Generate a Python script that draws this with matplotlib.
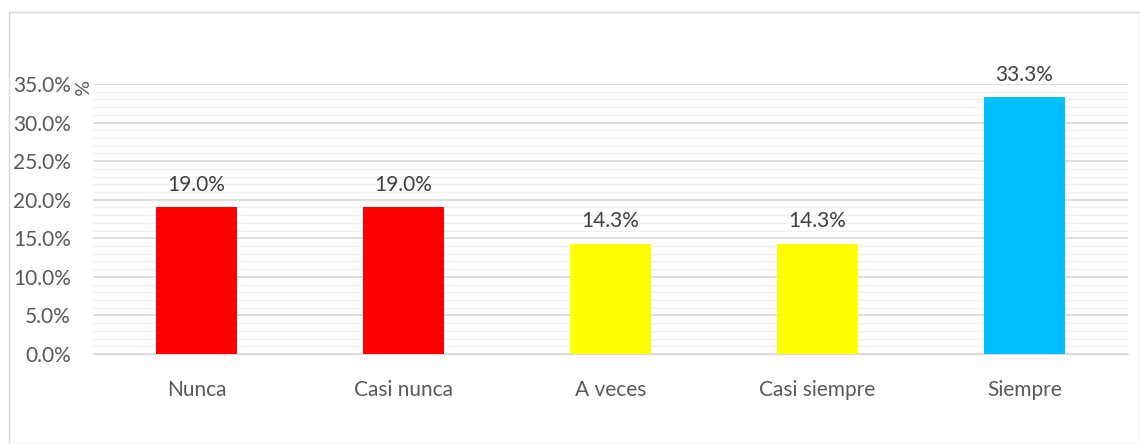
import numpy as np
import matplotlib.pyplot as plt
from matplotlib.patches import Rectangle

# data
categorias = ['Nunca', 'Casi nunca', 'A veces', 'Casi siempre', 'Siempre']
valores = [19.0, 19.0, 14.3, 14.3, 33.3]
colores = ['#FF0000', '#FF0000', '#FFFF00', '#FFFF00', '#00BFFF']

plt.rcParams['font.family'] = ['Lato', 'DejaVu Sans']
txt = '#595959'

fig = plt.figure(figsize=(11.4, 4.44), dpi=100)
ax = fig.add_axes([93/1140, 1 - 354/444, 1035/1140, 270/444])

# light border around chart area
fig.patches.append(Rectangle((9/1140, 0), 1 - 9/1140, 1 - 12/444,
                             transform=fig.transFigure, fill=False,
                             edgecolor='#D9D9D9', linewidth=1))

x = np.arange(len(categorias))
bars = ax.bar(x, valores, width=0.39, color=colores, zorder=3)
for xi, v in zip(x, valores):
    ax.text(xi, v + 1.6, f'{v:.1f}%', ha='center', va='bottom',
            fontsize=15, color='#404040')

ax.set_xlim(-0.5, 4.5)
ax.set_ylim(0, 35)
ax.set_yticks(np.arange(0, 36, 5))
ax.set_yticklabels([f'{t:.1f}%' for t in np.arange(0, 36, 5)])
ax.set_yticks(np.arange(0, 36, 1), minor=True)
ax.grid(axis='y', which='major', color='#D9D9D9', linewidth=1.2, zorder=0)
ax.grid(axis='y', which='minor', color='#F0F0F0', linewidth=1.0, zorder=0)
ax.set_xticks(x)
ax.set_xticklabels(categorias)
ax.tick_params(axis='both', which='both', length=0, labelsize=15, colors=txt)
ax.tick_params(axis='x', pad=19)
ax.tick_params(axis='y', pad=16)
for s in ['top', 'right', 'left']:
    ax.spines[s].set_visible(False)
ax.spines['bottom'].set_color('#D9D9D9')

fig.text(79/1140, 1 - 88/444, '%', rotation=-90, fontsize=14, color=txt,
         ha='center', va='center')

plt.savefig('out.png', dpi=100)
